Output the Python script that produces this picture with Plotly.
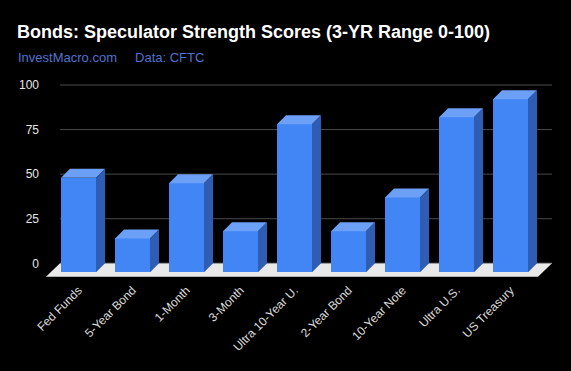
import plotly.graph_objects as go

# ---- data ----
categories = ["Fed Funds", "5-Year Bond", "1-Month", "3-Month", "Ultra 10-Year U.",
              "2-Year Bond", "10-Year Note", "Ultra U.S.", "US Treasury"]
scores = [53, 19, 50, 23, 83, 23, 42, 87, 97]
y_ticks = [0, 25, 50, 75, 100]
y_tick_labels = ["0", "25", "50", "75", "100"]

# ---- geometry (pixel-like units on x, value units on y) ----
W, H = 571, 371
L, R, T, B = 46, 19, 80, 91
K = 1.783            # px per value unit
Y0PX = 263.3         # pixel row of value 0 on the back plane
plot_top, plot_bot = T, H - B
y_hi = (Y0PX - plot_top) / K
y_lo = (Y0PX - plot_bot) / K

x_start, step, bw = 78.5, 54, 35
dx_px, dy_px = 9, 9
D = dy_px / K
xs = [x_start + i * step for i in range(len(categories))]

floor_dx = 14
floor_dy = (276.7 - Y0PX) / K
back_left = xs[0] - bw / 2 - 1
back_right = L + (W - L - R)

FRONT = "#4285f4"
TOP = "#6c9ff6"
SIDE = "#2f5db3"

fig = go.Figure()

# front faces
fig.add_trace(go.Bar(
    x=xs, y=scores, base=[-D] * len(scores), width=bw,
    marker=dict(color=FRONT, line=dict(width=0)),
    hoverinfo="skip", showlegend=False,
))

# top and side faces
tx, ty = [], []
sx, sy = [], []
for xc, v in zip(xs, scores):
    x0, x1 = xc - bw / 2, xc + bw / 2
    tx += [x0, x1, x1 + dx_px, x0 + dx_px, x0, None]
    ty += [v - D, v - D, v, v, v - D, None]
    sx += [x1, x1 + dx_px, x1 + dx_px, x1, x1, None]
    sy += [-D, 0, v, v - D, -D, None]
fig.add_trace(go.Scatter(x=tx, y=ty, fill="toself", fillcolor=TOP, mode="lines",
                         line=dict(width=0, color=TOP), hoverinfo="skip", showlegend=False))
fig.add_trace(go.Scatter(x=sx, y=sy, fill="toself", fillcolor=SIDE, mode="lines",
                         line=dict(width=0, color=SIDE), hoverinfo="skip", showlegend=False))

shapes = []
# floor slab
shapes.append(dict(
    type="path", xref="x", yref="y", layer="below",
    path=f"M {back_left},0 L {back_right},0 L {back_right - floor_dx},{-floor_dy} "
         f"L {back_left - floor_dx},{-floor_dy} Z",
    fillcolor="#e9e9e9", line=dict(width=0),
))
# gridlines on the back plane
for t in y_ticks:
    shapes.append(dict(
        type="line", xref="x", yref="y", layer="below",
        x0=back_left, x1=back_right, y0=t, y1=t,
        line=dict(color="#9a9a9a" if t == 0 else "#4a4a4a", width=1),
    ))


def px_to_paper_x(px):
    return (px - L) / (W - L - R)


def px_to_paper_y(py):
    return (plot_bot - py) / (plot_bot - plot_top)


fig.update_layout(
    width=W, height=H,
    margin=dict(l=L, r=R, t=T, b=B, pad=0),
    paper_bgcolor="#000000", plot_bgcolor="#000000",
    font=dict(family="Liberation Sans, Arial, sans-serif", color="#e6e6e6", size=12),
    title=dict(
        text="<b>Bonds: Speculator Strength Scores (3-YR Range 0-100)</b>",
        font=dict(size=18, color="#ffffff"),
        x=17 / W, xanchor="left", xref="container",
        y=1 - 32 / H, yanchor="middle", yref="container",
    ),
    annotations=[dict(
        text="InvestMacro.com&nbsp;&nbsp;&nbsp;&nbsp;&nbsp;Data: CFTC",
        xref="paper", yref="paper",
        x=px_to_paper_x(16), y=px_to_paper_y(58),
        xanchor="left", yanchor="middle", showarrow=False,
        font=dict(size=13, color="#4f74cf"),
    )],
    shapes=shapes,
    xaxis=dict(
        range=[L, back_right], showgrid=False, zeroline=False, showline=False,
        tickmode="array", tickvals=xs, ticktext=categories, tickangle=-45,
        ticks="", tickfont=dict(size=12, color="#dcdcdc"), fixedrange=True,
    ),
    yaxis=dict(
        range=[y_lo, y_hi], showgrid=False, zeroline=False, showline=False,
        tickmode="array", tickvals=y_ticks, ticktext=y_tick_labels,
        ticks="", ticklabelstandoff=6, tickfont=dict(size=12, color="#e6e6e6"),
        fixedrange=True,
    ),
    bargap=0,
)

fig.write_html(
    "out.html",
    config={"displayModeBar": False},
    post_script="document.body.style.margin='0';document.body.style.padding='0';"
                "document.body.style.background='#000';"
                "document.documentElement.style.background='#000';",
)
